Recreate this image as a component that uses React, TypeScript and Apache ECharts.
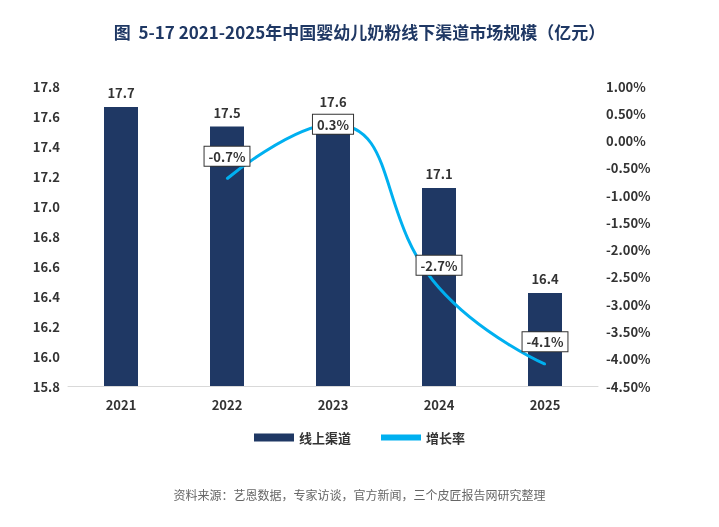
import React, { useEffect, useRef } from 'react';
import * as echarts from 'echarts';

const years = ['2021', '2022', '2023', '2024', '2025'];
const sizes = [17.66, 17.53, 17.6, 17.12, 16.42];
const sizeLabels = ['17.7', '17.5', '17.6', '17.1', '16.4'];
const growth = [null, -0.7, 0.3, -2.7, -4.1];

const App: React.FC = () => {
    const chartRef = useRef<HTMLDivElement>(null);
    useEffect(() => {
        if (!chartRef.current) return;
        const chart = echarts.init(chartRef.current, null, { renderer: 'svg' });
        const font = "'Noto Sans CJK SC', 'Noto Sans', sans-serif";
        chart.setOption({
            animation: false,
            textStyle: { fontFamily: font },
            title: {
                text: '图  5-17 2021-2025年中国婴幼儿奶粉线下渠道市场规模（亿元）',
                left: 'center',
                top: 18,
                textStyle: { color: '#1f3864', fontSize: 17, fontWeight: 'bold', fontFamily: font },
            },
            graphic: [{
                type: 'text',
                left: 'center',
                top: 488,
                style: { text: '资料来源：艺恩数据，专家访谈，官方新闻，三个皮匠报告网研究整理', fill: '#666', fontSize: 12, fontFamily: font },
            }],
            legend: {
                bottom: 78,
                itemGap: 30,
                textStyle: { color: '#333', fontSize: 13, fontWeight: 'bold' },
                data: [
                    { name: '线上渠道', icon: 'rect', itemStyle: { color: '#1f3864' } },
                    { name: '增长率', icon: 'path://M0,0H20V3H0Z', itemStyle: { color: '#00b0f0' } },
                ],
                itemWidth: 40,
                itemHeight: 8,
            },
            grid: { left: 68, right: 121, top: 86, bottom: 141 },
            xAxis: {
                type: 'category',
                data: years,
                axisTick: { show: false },
                axisLine: { onZero: false, lineStyle: { color: '#d9d9d9' } },
                axisLabel: { color: '#333', fontSize: 13, fontWeight: 'bold', margin: 12 },
            },
            yAxis: [
                {
                    type: 'value', min: 15.8, max: 17.8, interval: 0.2,
                    axisLabel: { color: '#333', fontSize: 13, fontWeight: 'bold', formatter: (v: number) => v.toFixed(1) },
                    splitLine: { show: false },
                    axisLine: { show: false },
                },
                {
                    type: 'value', min: -4.5, max: 1, interval: 0.5,
                    axisLabel: { color: '#333', fontSize: 13, fontWeight: 'bold', formatter: (v: number) => v.toFixed(2) + '%' },
                    splitLine: { show: false },
                    axisLine: { show: false },
                },
            ],
            series: [
                {
                    name: '线上渠道',
                    type: 'bar',
                    barWidth: 34,
                    itemStyle: { color: '#1f3864' },
                    label: {
                        show: true, position: 'top', distance: 8, color: '#333', fontSize: 13, fontWeight: 'bold',
                        formatter: (p: any) => sizeLabels[p.dataIndex],
                    },
                    data: sizes,
                },
                {
                    name: '增长率',
                    type: 'line',
                    yAxisIndex: 1,
                    smooth: true,
                    showSymbol: true,
                    showAllSymbol: true,
                    symbol: 'circle',
                    symbolSize: 2,
                    itemStyle: { color: '#00b0f0' },
                    lineStyle: { width: 3, color: '#00b0f0' },
                    label: {
                        show: true, position: 'top', distance: 12, color: '#333', fontSize: 13, fontWeight: 'bold',
                        backgroundColor: '#fff', borderColor: '#333', borderWidth: 1, padding: [3, 4],
                        formatter: (p: any) => p.value == null ? '' : p.value.toFixed(1) + '%',
                    },
                    data: growth.map((v, i) => i === 2 ? { value: v, label: { position: 'inside' } } : v),
                },
            ],
        });
        return () => chart.dispose();
    }, []);
    return <div ref={chartRef} style={{ position: 'fixed', left: 0, top: 0, width: 719, height: 527 }} />;
};

export default App;
